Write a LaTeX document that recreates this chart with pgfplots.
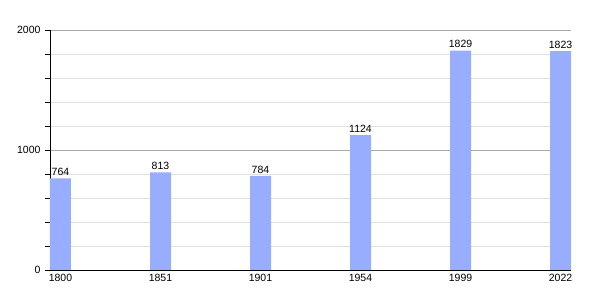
\documentclass[border=0pt]{standalone}
\usepackage{pgfplots}
\pgfplotsset{compat=1.18}
\usepackage{fontspec}
\setmainfont{Liberation Sans}
\definecolor{barblue}{RGB}{153,173,255}
\definecolor{minorgrid}{RGB}{224,224,224}
\definecolor{majorgrid}{RGB}{170,170,170}
\begin{document}
\begin{tikzpicture}[x=1pt,y=1pt]
\begin{axis}[
  scale only axis,
  width=521pt, height=240pt,
  xmin=-0.105, xmax=5.105,
  ymin=0, ymax=2000,
  axis x line*=bottom,
  axis y line*=left,
  axis line style={black, line width=0.8pt},
  xtick={0,1,2,3,4,5},
  xticklabels={1800,1851,1901,1954,1999,2022},
  x tick style={draw=none},
  ytick={0,1000,2000},
  minor ytick={200,400,600,800,1200,1400,1600,1800},
  tick align=outside,
  y tick style={black, line width=0.6pt},
  major tick length=5pt,
  minor tick length=5pt,
  ymajorgrids, yminorgrids,
  major grid style={majorgrid, line width=0.8pt},
  minor grid style={minorgrid, line width=0.8pt},
  tick label style={font=\fontsize{10.5}{12}\selectfont},
  /pgf/number format/assume math mode=true,
  yticklabel style={xshift=-1pt},
  xticklabel style={yshift=4pt},
  scaled y ticks=false,
  ybar, bar width=0.21, bar shift=0pt,
  nodes near coords,
  every node near coord/.append style={font=\fontsize{10.5}{12}\selectfont, yshift=-1pt},
  /pgf/number format/.cd, fixed, 1000 sep={},
]
\addplot[fill=barblue, draw=none] coordinates {
  (0,764) (1,813) (2,784) (3,1124) (4,1829) (5,1823)
};
\coordinate (bl) at (rel axis cs:0,0);
\coordinate (tr) at (rel axis cs:1,1);
\end{axis}
\pgfresetboundingbox
\path[use as bounding box] ([shift={(-50pt,-30pt)}]bl) rectangle ([shift={(29pt,30pt)}]tr);
\end{tikzpicture}
\end{document}
